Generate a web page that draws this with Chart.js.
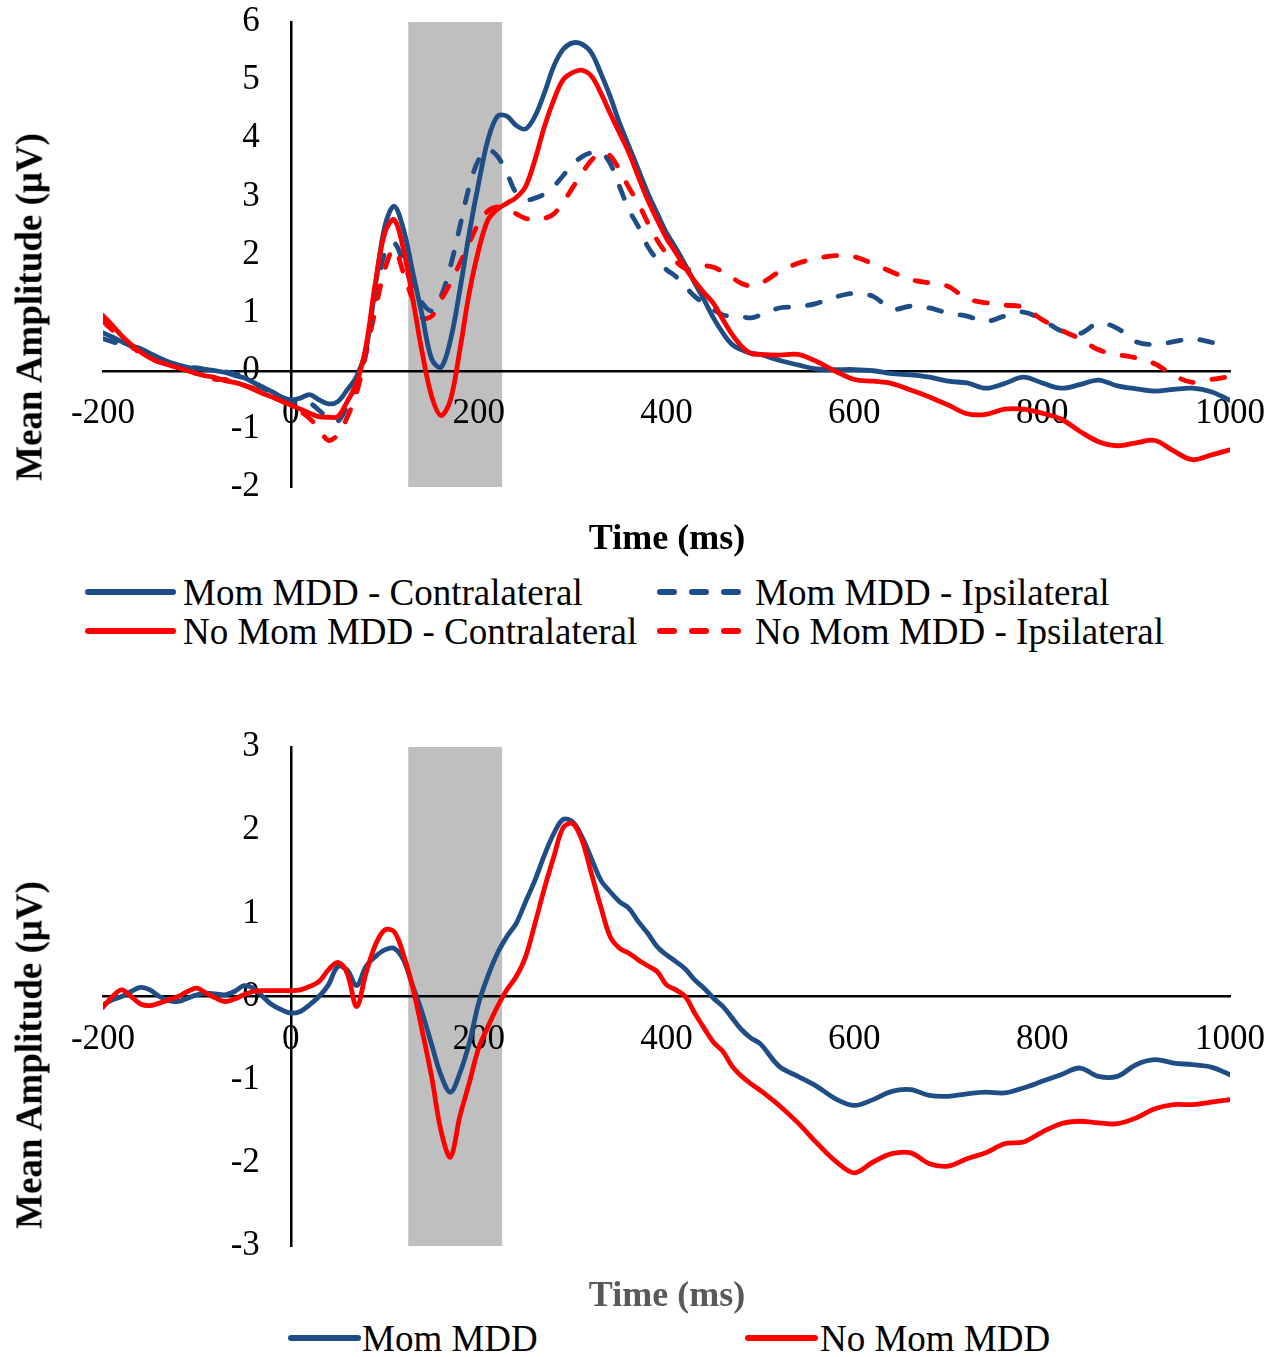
<!DOCTYPE html>
<html>
<head>
<meta charset="utf-8">
<script src="https://cdn.jsdelivr.net/npm/chart.js@4.4.1/dist/chart.umd.min.js"></script>
<style>
  html, body { margin: 0; padding: 0; background: #fff; }
  #wrap { position: relative; width: 1288px; height: 1357px; background: #fff; overflow: hidden; }
  canvas { position: absolute; left: 0; }
  .txt { position: absolute; font-family: 'Liberation Serif', 'Times New Roman', serif; white-space: nowrap; line-height: 1; color: #000; }
  .title { font-weight: bold; font-size: 36px; transform: translate(-50%, -50%); }
  .ytitle { font-weight: bold; font-size: 37px; transform: translate(-50%, -50%) rotate(-90deg); }
  .leg { font-size: 37px; transform: translateY(-50%); }
  .sample { position: absolute; transform: translateY(-50%); }
</style>
</head>
<body>
<div id="wrap">
  <canvas id="c1" width="1288" height="520" style="top:0px"></canvas>
  <canvas id="c2" width="1288" height="580" style="top:700px"></canvas>

  <div class="txt ytitle" style="left:29px; top:307px;">Mean Amplitude (μV)</div>
  <div class="txt title" style="left:667px; top:537px;">Time (ms)</div>

  <svg class="sample" style="left:84px; top:592px;" width="94" height="10"><line x1="4" y1="5" x2="89" y2="5" stroke="#1F4E86" stroke-width="6" stroke-linecap="round"/></svg>
  <div class="txt leg" style="left:183px; top:592px;">Mom MDD - Contralateral</div>
  <svg class="sample" style="left:656px; top:592px;" width="94" height="10"><line x1="4" y1="5" x2="89" y2="5" stroke="#1F4E86" stroke-width="6" stroke-linecap="round" stroke-dasharray="14 18"/></svg>
  <div class="txt leg" style="left:755px; top:592px;">Mom MDD - Ipsilateral</div>
  <svg class="sample" style="left:84px; top:631px;" width="94" height="10"><line x1="4" y1="5" x2="89" y2="5" stroke="#FF0000" stroke-width="6" stroke-linecap="round"/></svg>
  <div class="txt leg" style="left:183px; top:631px;">No Mom MDD - Contralateral</div>
  <svg class="sample" style="left:656px; top:631px;" width="94" height="10"><line x1="4" y1="5" x2="89" y2="5" stroke="#FF0000" stroke-width="6" stroke-linecap="round" stroke-dasharray="14 18"/></svg>
  <div class="txt leg" style="left:755px; top:631px;">No Mom MDD - Ipsilateral</div>

  <div class="txt ytitle" style="left:29px; top:1055px;">Mean Amplitude (μV)</div>
  <div class="txt title" style="left:667px; top:1294px; color:#595959;">Time (ms)</div>

  <svg class="sample" style="left:287px; top:1338px;" width="76" height="10"><line x1="4" y1="5" x2="71" y2="5" stroke="#1F4E86" stroke-width="6" stroke-linecap="round"/></svg>
  <div class="txt leg" style="left:362px; top:1338px;">Mom MDD</div>
  <svg class="sample" style="left:744px; top:1338px;" width="76" height="10"><line x1="4" y1="5" x2="71" y2="5" stroke="#FF0000" stroke-width="6" stroke-linecap="round"/></svg>
  <div class="txt leg" style="left:820px; top:1338px;">No Mom MDD</div>
</div>

<script>
// ---------- DATA ----------
const times = [
  -200,-190,-180,-170,-160,-150,-140,-130,-120,-110,
  -100,-90,-80,-70,-60,-50,-40,-30,-20,-10,
  0,10,20,30,40,50,60,70,80,90,
  100,110,120,130,140,150,160,170,180,190,
  200,210,220,230,240,250,260,270,280,290,
  300,310,320,330,340,350,360,370,380,390,
  400,410,420,430,440,450,460,470,480,490,
  500,520,540,560,580,600,620,640,660,680,
  700,720,740,760,780,800,820,840,860,880,
  900,920,940,960,980,1000
];

// Top panel
const topMomContra = [
  0.65,0.58,0.5,0.43,0.38,0.3,0.22,0.15,0.1,0.06,
  0.04,0.02,0.0,-0.03,-0.08,-0.12,-0.2,-0.28,-0.36,-0.45,
  -0.5,-0.47,-0.41,-0.5,-0.57,-0.53,-0.33,-0.1,0.36,1.45,
  2.48,2.83,2.43,1.68,0.94,0.2,0.06,0.53,1.39,2.37,
  3.23,3.98,4.38,4.38,4.22,4.16,4.38,4.78,5.24,5.53,
  5.64,5.62,5.47,5.12,4.72,4.26,3.86,3.46,3.06,2.71,
  2.37,2.11,1.82,1.51,1.22,0.91,0.65,0.45,0.36,0.3,
  0.28,0.18,0.1,0.03,0.02,0.02,0.0,-0.05,-0.07,-0.11,
  -0.18,-0.21,-0.3,-0.22,-0.11,-0.21,-0.3,-0.24,-0.16,-0.26,
  -0.31,-0.35,-0.32,-0.3,-0.36,-0.51
];
const topNoMomContra = [
  0.95,0.78,0.6,0.45,0.32,0.22,0.15,0.1,0.05,0.0,
  -0.05,-0.09,-0.12,-0.17,-0.2,-0.25,-0.32,-0.39,-0.45,-0.52,
  -0.59,-0.66,-0.73,-0.79,-0.8,-0.79,-0.53,-0.21,0.42,1.51,
  2.37,2.6,2.08,1.22,0.3,-0.44,-0.77,-0.5,0.36,1.34,
  2.08,2.6,2.78,2.88,2.98,3.17,3.63,4.2,4.66,5.01,
  5.13,5.17,5.07,4.78,4.43,4.09,3.75,3.34,2.94,2.6,
  2.28,2.03,1.77,1.54,1.34,1.16,0.88,0.62,0.42,0.3,
  0.28,0.27,0.28,0.16,-0.01,-0.15,-0.18,-0.22,-0.33,-0.45,
  -0.59,-0.74,-0.75,-0.66,-0.66,-0.73,-0.83,-1.04,-1.22,-1.29,
  -1.24,-1.2,-1.38,-1.53,-1.45,-1.36
];
const topMomIpsi = [
  0.55,0.5,0.45,0.4,0.35,0.28,0.2,0.13,0.08,0.06,
  0.05,0.02,0.0,-0.02,-0.05,-0.12,-0.2,-0.3,-0.38,-0.47,
  -0.55,-0.5,-0.55,-0.68,-0.82,-0.87,-0.6,-0.22,0.3,1.22,
  2.03,2.2,1.85,1.45,1.16,1.03,1.28,1.8,2.48,3.17,
  3.63,3.8,3.69,3.4,3.06,2.94,2.97,3.04,3.17,3.36,
  3.55,3.68,3.75,3.76,3.57,3.17,2.77,2.48,2.14,1.91,
  1.74,1.62,1.45,1.28,1.16,1.05,0.96,0.94,0.93,0.91,
  0.96,1.08,1.1,1.16,1.27,1.33,1.28,1.06,1.11,1.08,
  0.99,0.94,0.85,0.94,1.01,0.88,0.69,0.64,0.82,0.73,
  0.5,0.45,0.5,0.55,0.49,0.42
];
const topNoMomIpsi = [
  0.85,0.7,0.55,0.42,0.3,0.22,0.15,0.12,0.05,0.02,
  -0.05,-0.1,-0.15,-0.15,-0.2,-0.25,-0.3,-0.38,-0.45,-0.52,
  -0.6,-0.7,-0.82,-1.0,-1.2,-1.1,-0.8,-0.38,0.3,1.05,
  1.74,2.1,1.68,1.22,0.91,0.94,1.22,1.51,1.85,2.2,
  2.54,2.75,2.82,2.78,2.7,2.62,2.6,2.62,2.7,2.9,
  3.15,3.4,3.62,3.75,3.7,3.45,3.15,2.88,2.55,2.25,
  2.02,1.88,1.76,1.74,1.8,1.78,1.7,1.6,1.5,1.46,
  1.5,1.7,1.85,1.93,1.98,1.96,1.84,1.7,1.57,1.51,
  1.45,1.24,1.17,1.13,1.09,0.88,0.7,0.55,0.36,0.28,
  0.22,0.12,-0.08,-0.2,-0.15,-0.1
];

// Bottom panel
const botMom = [
  -0.1,-0.04,0.0,0.06,0.11,0.08,0.0,-0.05,-0.06,-0.02,
  0.02,0.04,0.03,0.02,0.06,0.13,0.1,0.0,-0.1,-0.16,
  -0.2,-0.18,-0.1,0.0,0.14,0.36,0.32,0.13,0.36,0.48,
  0.56,0.58,0.44,0.12,-0.2,-0.58,-0.95,-1.15,-0.92,-0.56,
  -0.08,0.25,0.52,0.72,0.88,1.14,1.4,1.7,1.96,2.13,
  2.1,1.92,1.66,1.4,1.26,1.14,1.06,0.9,0.76,0.6,
  0.5,0.42,0.33,0.2,0.1,-0.02,-0.12,-0.26,-0.4,-0.5,
  -0.57,-0.84,-0.96,-1.08,-1.23,-1.31,-1.24,-1.14,-1.12,-1.19,
  -1.2,-1.17,-1.15,-1.16,-1.1,-1.02,-0.94,-0.86,-0.96,-0.96,
  -0.82,-0.76,-0.8,-0.82,-0.85,-0.94
];
const botNoMom = [
  -0.13,0.0,0.08,0.0,-0.09,-0.11,-0.08,-0.04,0.0,0.06,
  0.1,0.04,-0.02,-0.06,-0.03,0.02,0.06,0.07,0.07,0.07,
  0.07,0.08,0.12,0.18,0.32,0.41,0.28,-0.12,0.28,0.62,
  0.8,0.78,0.5,0.1,-0.42,-0.97,-1.62,-1.93,-1.44,-1.04,
  -0.62,-0.36,-0.12,0.08,0.24,0.48,0.88,1.3,1.68,2.03,
  2.08,1.88,1.48,1.08,0.72,0.58,0.52,0.44,0.37,0.3,
  0.14,0.08,0.0,-0.2,-0.38,-0.55,-0.66,-0.84,-0.96,-1.05,
  -1.13,-1.31,-1.52,-1.76,-1.98,-2.12,-1.99,-1.89,-1.88,-2.01,
  -2.04,-1.95,-1.88,-1.77,-1.75,-1.63,-1.53,-1.5,-1.52,-1.53,
  -1.46,-1.35,-1.3,-1.3,-1.27,-1.24
];

const xRange = [-200, 1000];
const xStep = 200;
const topYRange = [-2, 6];
const botYRange = [-3, 3];
const shadeWindow = [125, 225];
const yLabelAnchor = -33;   // time value where the y tick labels end

// ---------- STYLE ----------
const BLUE = '#1F4E86';
const RED = '#FF0000';
const FONT = 'Liberation Serif';
Chart.defaults.font.family = FONT;

function pts(arr) { return times.map((t, i) => ({ x: t, y: arr[i] })); }

const bandPlugin = {
  id: 'band',
  beforeDraw(chart) {
    const { ctx, scales: { x, y } } = chart;
    const x0 = x.getPixelForValue(shadeWindow[0]);
    const x1 = x.getPixelForValue(shadeWindow[1]);
    const yTop = y.getPixelForValue(y.max);
    const yBot = y.getPixelForValue(y.min);
    ctx.save();
    ctx.fillStyle = '#BFBFBF';
    ctx.fillRect(x0, yTop, x1 - x0, yBot - yTop);
    ctx.restore();
  }
};

function lineDs(label, arr, color, dashed) {
  return {
    label, data: pts(arr),
    borderColor: color, backgroundColor: color,
    borderWidth: 4.8, pointRadius: 0, fill: false,
    tension: 0.35,
    borderDash: dashed ? [13, 19] : [],
    borderCapStyle: 'round', borderJoinStyle: 'round'
  };
}

const noGrid = { display: true, color: 'rgba(0,0,0,0)', drawTicks: false };
const tickFont = { family: FONT, size: 35 };

function makeChart(id, datasets, yr, target) {
  const chart = new Chart(document.getElementById(id), {
    type: 'line',
    data: { datasets },
    plugins: [bandPlugin],
    options: {
      responsive: false, animation: false, devicePixelRatio: 1,
      layout: { padding: { left: target.left, right: 1288 - target.right, top: target.top, bottom: target.h - target.bottom } },
      plugins: { legend: { display: false }, tooltip: { enabled: false } },
      scales: {
        x: {
          type: 'linear', min: xRange[0], max: xRange[1], position: { y: 0 },
          ticks: { stepSize: xStep, autoSkip: false, maxRotation: 0, padding: 22,
                   color: '#000', font: tickFont, callback: v => String(v) },
          grid: noGrid,
          border: { display: true, color: '#000', width: 2.5 }
        },
        y: {
          type: 'linear', min: yr[0], max: yr[1], position: { x: 0 },
          ticks: { display: false, stepSize: 1 },
          grid: noGrid,
          border: { display: true, color: '#000', width: 2.5 }
        },
        yLab: {
          type: 'linear', axis: 'y', min: yr[0], max: yr[1], position: { x: yLabelAnchor },
          ticks: { stepSize: 1, padding: 0, color: '#000', font: tickFont, callback: v => String(v) },
          grid: { display: false, drawTicks: false },
          border: { display: false }
        }
      }
    }
  });
  // nudge layout padding so the plotting area lands exactly on the target box
  for (let k = 0; k < 3; k++) {
    const a = chart.chartArea;
    const p = Object.assign({}, chart.options.layout.padding);
    const pad = {
      left: p.left + (target.left - a.left),
      top: p.top + (target.top - a.top),
      right: p.right + (a.right - target.right),
      bottom: p.bottom + (a.bottom - target.bottom)
    };
    chart.options.layout.padding = pad;
    chart.update();
  }
  return chart;
}

function drawAll() {
  makeChart('c1', [
    lineDs('No Mom MDD - Contralateral', topNoMomContra, RED, false),
    lineDs('Mom MDD - Contralateral', topMomContra, BLUE, false),
    lineDs('No Mom MDD - Ipsilateral', topNoMomIpsi, RED, true),
    lineDs('Mom MDD - Ipsilateral', topMomIpsi, BLUE, true)
  ], topYRange, { left: 103, right: 1230, top: 22, bottom: 487, h: 520 });

  makeChart('c2', [
    lineDs('No Mom MDD', botNoMom, RED, false),
    lineDs('Mom MDD', botMom, BLUE, false)
  ], botYRange, { left: 103, right: 1230, top: 47, bottom: 546, h: 580 });
}

if (document.fonts && document.fonts.load) {
  document.fonts.load('35px "Liberation Serif"').then(drawAll, drawAll);
} else {
  drawAll();
}
</script>
</body>
</html>
